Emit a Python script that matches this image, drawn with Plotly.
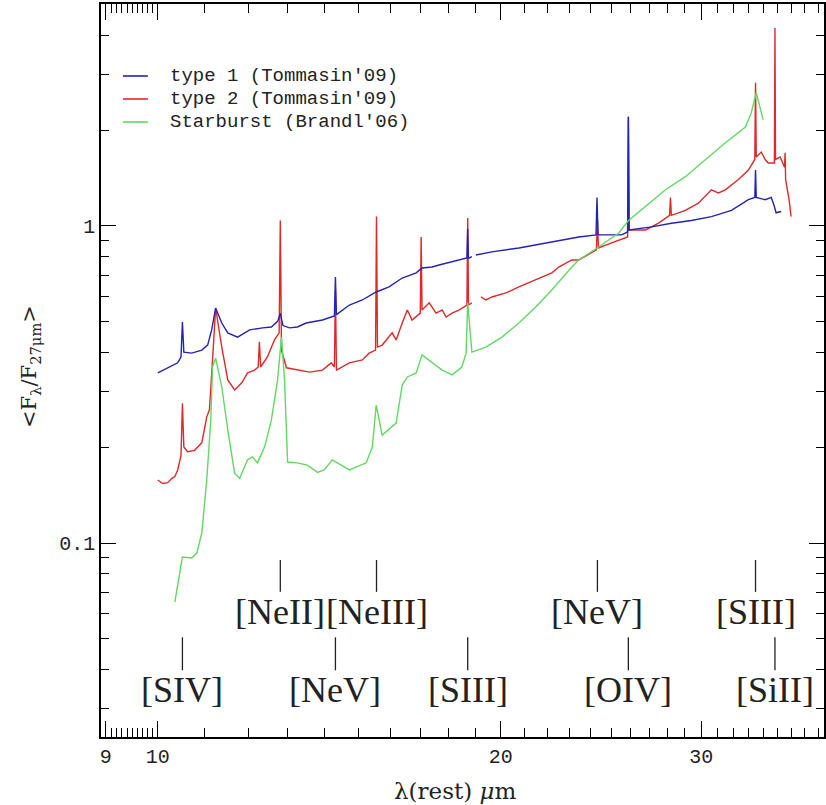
import numpy as np
import plotly.graph_objects as go

# ---------------- data ----------------
type1_wl = [10.00, 10.20, 10.41, 10.48, 10.51, 10.54, 10.71, 10.93, 11.06, 11.15,
            11.24, 11.38, 11.52, 11.75, 12.04, 12.36, 12.58, 12.74, 12.81, 12.88,
            13.05, 13.26, 13.50, 13.95, 14.29, 14.32, 14.35, 14.73, 15.12, 15.55,
            15.96, 16.39, 16.86, 17.06, 17.41, 17.66, 18.13, 18.68, 18.71, 18.74,
            18.87, None, 19.02, 19.65, 20.75, 21.91, 23.09, 23.42, 24.25, 24.30,
            24.35, 24.88, 25.54, 25.85, 25.89, 25.93, 27.14, 28.25, 29.41, 30.62,
            31.89, 33.00, 33.43, 33.48, 33.53, 34.14, 34.56, 34.76, 34.90, 35.26]
type1_flux = [0.344, 0.357, 0.370, 0.386, 0.498, 0.400, 0.397, 0.406, 0.421, 0.470,
              0.551, 0.494, 0.460, 0.446, 0.470, 0.477, 0.480, 0.500, 0.530, 0.485,
              0.477, 0.480, 0.494, 0.505, 0.520, 0.690, 0.525, 0.563, 0.584, 0.619,
              0.642, 0.685, 0.711, 0.737, 0.742, 0.753, 0.770, 0.793, 0.980, 0.790,
              0.800, None, 0.810, 0.828, 0.852, 0.884, 0.917, 0.923, 0.937, 1.23,
              0.937, 0.937, 0.937, 0.957, 2.21, 0.971, 0.993, 1.02, 1.04, 1.07,
              1.12, 1.21, 1.23, 1.50, 1.23, 1.21, 1.23, 1.16, 1.10, 1.11]

type2_wl = [10.00, 10.10, 10.20, 10.29, 10.35, 10.41, 10.48, 10.51, 10.54, 10.62,
            10.77, 10.93, 11.04, 11.10, 11.17, 11.24, 11.38, 11.52, 11.68, 11.85,
            11.99, 12.16, 12.25, 12.28, 12.31, 12.48, 12.66, 12.78, 12.81, 12.84,
            12.97, 13.26, 13.59, 13.95, 14.20, 14.29, 14.32, 14.35, 14.73, 15.12,
            15.33, 15.53, 15.56, 15.59, 15.74, 16.06, 16.19, 16.39, 16.56, 16.72,
            17.00, 17.03, 17.06, 17.31, 17.55, 17.77, 17.91, 18.13, 18.38, 18.68,
            18.71, 18.74, 18.87, None, 19.22, 19.41, 19.65, 20.21, 20.75, 21.47,
            22.18, 22.49, 23.09, 23.42, 24.27, 24.32, 24.37, 25.03, 25.85, 25.89,
            25.93, 26.81, 27.52, 28.14, 28.19, 28.24, 29.05, 29.83, 30.62, 31.06,
            31.50, 32.34, 33.00, 33.43, 33.48, 33.53, 33.87, 34.14, 34.35, 34.78,
            34.82, 34.86, 35.19, 35.50, 35.54, 35.58, 35.83, 35.97]
type2_flux = [0.158, 0.154, 0.155, 0.160, 0.162, 0.170, 0.189, 0.276, 0.201, 0.194,
              0.196, 0.207, 0.250, 0.263, 0.378, 0.551, 0.415, 0.327, 0.304, 0.320,
              0.344, 0.351, 0.359, 0.431, 0.359, 0.386, 0.437, 0.460, 1.04, 0.406,
              0.357, 0.351, 0.346, 0.351, 0.370, 0.359, 0.628, 0.351, 0.370, 0.378,
              0.397, 0.406, 1.07, 0.415, 0.421, 0.460, 0.437, 0.494, 0.543, 0.505,
              0.531, 0.923, 0.543, 0.572, 0.531, 0.543, 0.516, 0.531, 0.543, 0.563,
              1.06, 0.563, 0.572, None, 0.597, 0.584, 0.597, 0.615, 0.642, 0.676,
              0.711, 0.742, 0.781, 0.781, 0.840, 1.05, 0.852, 0.884, 0.923, 2.21,
              0.971, 0.971, 1.02, 1.08, 1.23, 1.08, 1.12, 1.18, 1.30, 1.27,
              1.30, 1.40, 1.50, 1.62, 2.83, 1.65, 1.71, 1.62, 1.58, 1.58,
              4.21, 1.62, 1.65, 1.53, 1.70, 1.40, 1.21, 1.07]

sb_wl = [10.35, 10.45, 10.51, 10.71, 10.82, 10.93, 11.04, 11.13, 11.17, 11.24,
         11.38, 11.52, 11.68, 11.80, 11.99, 12.11, 12.23, 12.41, 12.58, 12.74,
         12.84, 12.92, 13.00, 13.26, 13.53, 13.81, 14.00, 14.23, 14.73, 15.24,
         15.43, 15.55, 15.74, 16.19, 16.39, 16.56, 16.86, 17.06, 17.41, 17.77,
         18.13, 18.49, 18.65, 18.71, 18.87, 19.41, 20.05, 20.75, 21.47, 22.18,
         23.09, 23.42, 24.38, 25.39, 25.90, 26.81, 27.91, 29.05, 30.25, 31.50,
         32.80, 33.19, 33.53, 33.87, 34.00]
sb_flux = [0.0651, 0.0804, 0.0903, 0.0897, 0.0930, 0.1075, 0.158, 0.244, 0.359, 0.383,
           0.311, 0.227, 0.166, 0.160, 0.183, 0.187, 0.179, 0.201, 0.244, 0.327,
           0.446, 0.327, 0.180, 0.179, 0.176, 0.167, 0.170, 0.183, 0.170, 0.179,
           0.201, 0.272, 0.219, 0.239, 0.315, 0.334, 0.344, 0.392, 0.370, 0.351,
           0.339, 0.359, 0.397, 0.572, 0.400, 0.415, 0.446, 0.494, 0.555, 0.628,
           0.742, 0.781, 0.858, 0.950, 1.04, 1.15, 1.30, 1.43, 1.62, 1.83,
           2.05, 2.27, 2.63, 2.27, 2.16]

series_names = ["type 1 (Tommasin'09)", "type 2 (Tommasin'09)", "Starburst (Brandl'06)"]

upper_labels = ["[NeII]", "[NeIII]", "[NeV]", "[SIII]"]
upper_wl = [12.81, 15.56, 24.32, 33.48]
lower_labels = ["[SIV]", "[NeV]", "[SIII]", "[OIV]", "[SiII]"]
lower_wl = [10.51, 14.32, 18.71, 25.89, 34.82]

x_major = [9, 10, 20, 30]
x_minor = [round(9 + 0.1 * i, 1) for i in range(1, 10)] + list(range(11, 20)) + \
          list(range(21, 30)) + list(range(31, 39))
y_major = [0.1, 1]
y_minor = [0.03, 0.04, 0.05, 0.06, 0.07, 0.08, 0.09,
           0.2, 0.3, 0.4, 0.5, 0.6, 0.7, 0.8, 0.9, 2, 3, 4, 5]
y_major_text = ["0.1", "1"]

# ---------------- styling ----------------
colors = ["#2323b4", "#e02828", "#62d862"]
draw_order = [1, 0, 2]  # red first, blue over it, green on top
W, H = 826, 805
ML, MR, MT, MB = 101, 0, 4, 68

all_wl = [type1_wl, type2_wl, sb_wl]
all_flux = [type1_flux, type2_flux, sb_flux]

fig = go.Figure()
for i in draw_order:
    fig.add_trace(go.Scatter(x=all_wl[i], y=all_flux[i], mode="lines", name=series_names[i],
                             line=dict(color=colors[i], width=1.4),
                             connectgaps=False, showlegend=False))

tick_font = dict(family="Liberation Mono", size=20, color="#222")

fig.update_xaxes(type="log", range=[np.log10(8.915), np.log10(38.45)],
                 showgrid=False, zeroline=False,
                 showline=True, linecolor="black", linewidth=1.6, mirror="ticks",
                 ticks="inside", ticklen=16, tickwidth=1.2, tickcolor="black",
                 tickmode="array", tickvals=x_major, ticktext=[str(v) for v in x_major],
                 tickfont=tick_font,
                 minor=dict(tickmode="array", tickvals=x_minor, ticks="inside",
                            ticklen=9, tickwidth=1.1, tickcolor="black", showgrid=False))
fig.update_yaxes(type="log", range=[np.log10(0.02445), np.log10(5.01)],
                 showgrid=False, zeroline=False,
                 showline=True, linecolor="black", linewidth=1.6, mirror="ticks",
                 ticks="inside", ticklen=15, tickwidth=1.2, tickcolor="black",
                 tickmode="array", tickvals=y_major, ticktext=y_major_text,
                 tickfont=tick_font,
                 minor=dict(tickmode="array", tickvals=y_minor, ticks="inside",
                            ticklen=8, tickwidth=1.1, tickcolor="black", showgrid=False))

# line identification markers and labels
row_specs = [(upper_labels, upper_wl, 0.2415, 0.198, 0.171),
             (lower_labels, lower_wl, 0.136, 0.091, 0.064)]
for labels, wls, y0, y1, ytxt in row_specs:
    for lab, wl in zip(labels, wls):
        fig.add_shape(type="line", xref="x", yref="paper", x0=wl, x1=wl, y0=y0, y1=y1,
                      line=dict(color="#222", width=1.3))
        fig.add_annotation(x=np.log10(wl), y=ytxt, xref="x", yref="paper",
                           text=lab, showarrow=False, xanchor="center", yanchor="middle",
                           font=dict(family="Liberation Serif", size=36, color="#222"))

# legend (key lines + names), placed in the upper-left corner
legend_rows_y = [0.9018, 0.8704, 0.8390]
for name, col, yy in zip(series_names, colors, legend_rows_y):
    fig.add_shape(type="line", xref="paper", yref="paper", x0=0.0303, x1=0.0648,
                  y0=yy, y1=yy, line=dict(color=col, width=1.6))
    fig.add_annotation(x=0.0924, y=yy, xref="paper", yref="paper", text=name,
                       showarrow=False, xanchor="left", yanchor="middle",
                       font=dict(family="Liberation Mono", size=19, color="#222"))

# axis titles
fig.add_annotation(x=0.49, y=-0.073, xref="paper", yref="paper",
                   text="λ(rest) <i>μ</i>m", showarrow=False,
                   xanchor="center", yanchor="middle",
                   font=dict(family="DejaVu Serif", size=23, color="#222"))
fig.add_annotation(x=-0.098, y=0.505, xref="paper", yref="paper",
                   text="&lt;F<sub>λ</sub>/F<sub>27μm</sub>&gt;", showarrow=False,
                   textangle=-90, xanchor="center", yanchor="middle",
                   font=dict(family="DejaVu Serif", size=21, color="#222"))

fig.update_layout(
    width=W, height=H,
    margin=dict(l=ML, r=MR, t=MT, b=MB),
    paper_bgcolor="white", plot_bgcolor="white",
    showlegend=False,
)

fig.write_html("out.html")
